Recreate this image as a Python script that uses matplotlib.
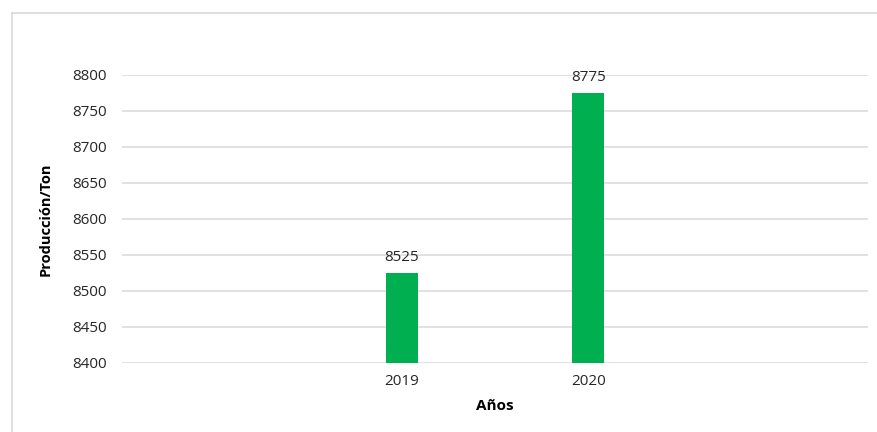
import matplotlib
matplotlib.use("Agg")
import matplotlib.pyplot as plt
from matplotlib.lines import Line2D

categories = ["", "2019", "2020", ""]
values = [None, 8525, 8775, None]
yticks = [8400, 8450, 8500, 8550, 8600, 8650, 8700, 8750, 8800]

plt.rcParams['font.family'] = ['Open Sans', 'DejaVu Sans']

W, H = 877, 432
fig = plt.figure(figsize=(W / 100, H / 100), dpi=100)
ax = fig.add_axes([122 / W, 1 - 363 / H, (868 - 122) / W, (363 - 75) / H])

xs = list(range(len(categories)))
bx = [x for x, v in zip(xs, values) if v is not None]
bv = [v for v in values if v is not None]
ax.bar(bx, bv, width=0.171, color="#00B050", zorder=3)
for x, v in zip(bx, bv):
    ax.annotate(f"{v}", (x, v), xytext=(0, 6), textcoords="offset points",
                ha="center", va="bottom", fontsize=11, color="#262626")

ax.set_xlim(-0.5, len(categories) - 0.5)
ax.set_ylim(yticks[0], yticks[-1])
ax.set_yticks(yticks)
ax.set_yticklabels([str(t) for t in yticks], fontsize=11, color="#262626")
ax.set_xticks(xs)
ax.set_xticklabels(categories, fontsize=11, color="#262626")
ax.tick_params(axis="both", length=0)
ax.tick_params(axis="y", pad=11)
ax.tick_params(axis="x", pad=8)
ax.grid(axis="y", color="#d9d9d9", linewidth=1.1, zorder=0)
ax.set_axisbelow(True)
for s in ax.spines.values():
    s.set_visible(False)

ax.set_ylabel("Producción/Ton", fontsize=10.5, fontweight="bold", color="black", labelpad=14)
ax.set_xlabel("Años", fontsize=11, fontweight="bold", color="black", labelpad=7)

# outer chart border (light gray)
fig.add_artist(Line2D([11.5 / W, 11.5 / W], [0, 1 - 12.5 / H], transform=fig.transFigure,
                      color="#d9d9d9", linewidth=1.2))
fig.add_artist(Line2D([11.5 / W, 1], [1 - 12.5 / H, 1 - 12.5 / H], transform=fig.transFigure,
                      color="#d9d9d9", linewidth=1.2))

fig.savefig("out.png", dpi=100)
